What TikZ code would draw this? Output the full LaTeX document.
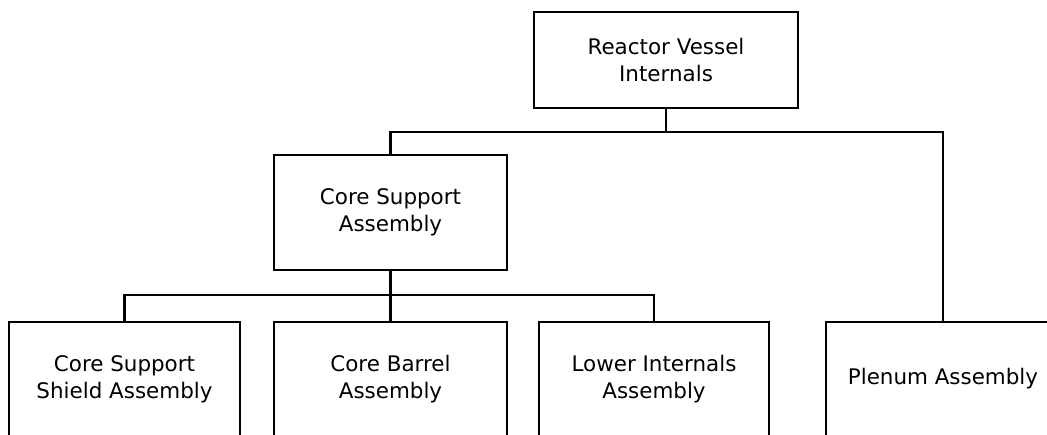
\documentclass[tikz,border=0pt]{standalone}
\usepackage{fontspec}
\setmainfont{DejaVu Sans}
\usepackage{tikz}

\begin{document}
\begin{tikzpicture}[x=0.02cm,y=-0.02cm,line width=1.2pt,
  font=\fontsize{12.2}{15.4}\selectfont,
  unit/.style={draw,align=center,inner sep=0pt}]
\useasboundingbox (0,0) rectangle (1047,434);
\clip (0,0) rectangle (1047,434);
\node[unit,minimum width=5.28cm,minimum height=1.92cm] (rvi) at (666,60) {Reactor Vessel\\Internals};
\node[unit,minimum width=4.66cm,minimum height=2.3cm] (csa) at (390.5,212.5) {Core Support\\Assembly};
\node[unit,minimum width=4.62cm,minimum height=2.28cm] (cssa) at (124.5,379) {Core Support\\Shield Assembly};
\node[unit,minimum width=4.66cm,minimum height=2.28cm] (cba) at (390.5,379) {Core Barrel\\Assembly};
\node[unit,minimum width=4.6cm,minimum height=2.28cm] (lia) at (654,379) {Lower Internals\\Assembly};
\node[unit,minimum width=4.68cm,minimum height=2.28cm] (pa) at (943,379) {Plenum Assembly};
\coordinate (top) at (666,132);
\coordinate (mid) at (390.5,295);
\draw (rvi.south) -- (top);
\draw (csa.north) |- (top) -| (pa.north);
\draw (csa.south) -- (cba.north);
\draw (cssa.north) |- (mid) -| (lia.north);
\end{tikzpicture}
\end{document}
